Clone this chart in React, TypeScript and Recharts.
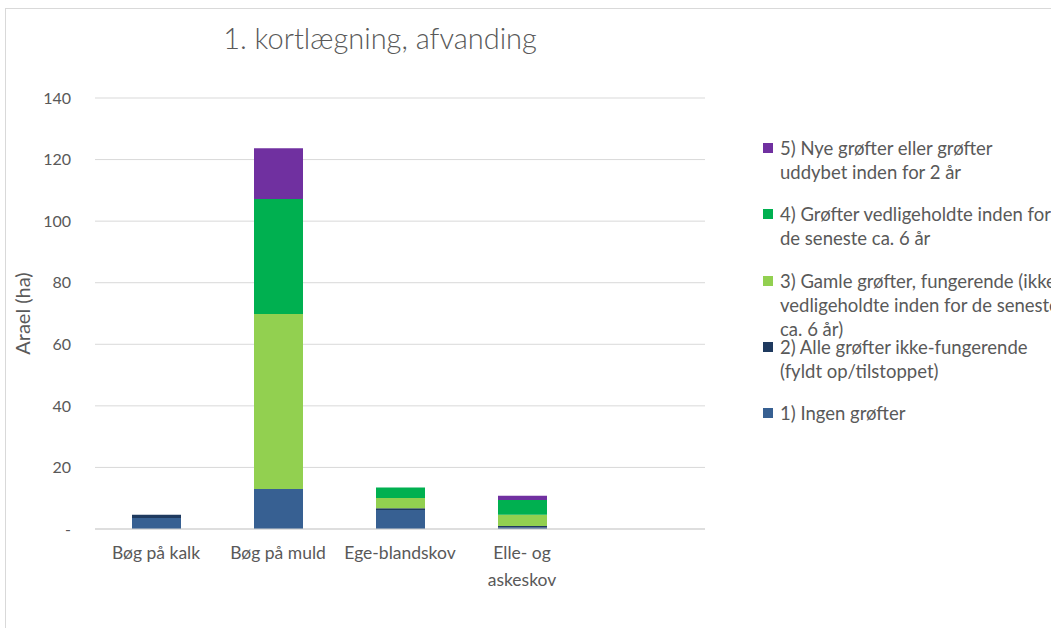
import React from 'react';
import { BarChart, Bar, XAxis, YAxis, CartesianGrid, Label } from 'recharts';

const categories = ['Bøg på kalk', 'Bøg på muld', 'Ege-blandskov', 'Elle- og\naskeskov', ''];
const s1 = [3.6, 13.0, 6.2, 0.5, 0];
const s2 = [1.0, 0, 0.5, 0.5, 0];
const s3 = [0, 56.8, 3.4, 3.6, 0];
const s4 = [0, 37.4, 3.4, 4.8, 0];
const s5 = [0, 16.5, 0, 1.4, 0];
const yTicks = [0, 20, 40, 60, 80, 100, 120, 140];

const seriesNames = [
  '1) Ingen grøfter',
  '2) Alle grøfter ikke-fungerende (fyldt op/tilstoppet)',
  '3) Gamle grøfter, fungerende (ikke vedligeholdte inden for de seneste ca. 6 år)',
  '4) Grøfter vedligeholdte inden for de seneste ca. 6 år',
  '5) Nye grøfter eller grøfter uddybet inden for 2 år',
];
const legendLines = [
  ['5) Nye grøfter eller grøfter', 'uddybet inden for 2 år'],
  ['4) Grøfter vedligeholdte inden for', 'de seneste ca. 6 år'],
  ['3) Gamle grøfter, fungerende (ikke', 'vedligeholdte inden for de seneste', 'ca. 6 år)'],
  ['2) Alle grøfter ikke-fungerende', '(fyldt op/tilstoppet)'],
  ['1) Ingen grøfter'],
];
const colors = ['#376092', '#1f3a5f', '#92d050', '#00b050', '#7030a0'];
const legendColors = ['#7030a0', '#00b050', '#92d050', '#1f3a5f', '#376092'];

const data = categories.map((c, i) => ({
  name: c,
  s1: s1[i],
  s2: s2[i],
  s3: s3[i],
  s4: s4[i],
  s5: s5[i],
}));

const FONT = 'Lato, "Open Sans", sans-serif';
const GRAY = '#595959';

const XTick = (props: any) => {
  const { x, y, payload } = props;
  const lines = String(payload.value).split('\n');
  return (
    <g transform={`translate(${x},${y})`}>
      {lines.map((l, i) => (
        <text key={i} x={0} y={22 + i * 27} textAnchor="middle" fill={GRAY} fontSize={17.5} fontFamily={FONT}>
          {l}
        </text>
      ))}
    </g>
  );
};

export default function App() {
  const keys = ['s1', 's2', 's3', 's4', 's5'];
  return (
    <div style={{ position: 'absolute', left: 0, top: 0, width: 1051, height: 628, overflow: 'hidden', background: '#fff' }}>
      <div style={{ position: 'absolute', left: 5, top: 8, width: 1100, height: 700, border: '1px solid #d9d9d9' }} />
      <div style={{ position: 'absolute', left: 0, top: 20, width: 760, textAlign: 'center', fontFamily: FONT, fontSize: 29, color: GRAY, fontWeight: 300 }}>
        1. kortlægning, afvanding
      </div>
      <div style={{ position: 'absolute', left: 0, top: 0 }}>
        <BarChart width={1051} height={628} data={data} margin={{ top: 98, right: 346, bottom: 39, left: 35 }} barCategoryGap="20%">
          <CartesianGrid vertical={false} stroke="#d9d9d9" />
          <XAxis
            dataKey="name"
            tick={<XTick />}
            tickLine={false}
            axisLine={{ stroke: '#d0d0d0' }}
            interval={0}
            height={60}
          />
          <YAxis
            width={60}
            domain={[0, 140]}
            ticks={yTicks}
            tickFormatter={(v: number) => (v === 0 ? '-' : String(v))}
            axisLine={false}
            tickLine={false}
            tickSize={0}
            tickMargin={24}
            tick={{ fill: GRAY, fontSize: 16, fontFamily: FONT }}
          >
            <Label
              value="Arael (ha)"
              angle={-90}
              position="insideLeft"
              offset={-12}
              style={{ fill: GRAY, fontSize: 20, fontFamily: FONT, textAnchor: 'middle' }}
            />
          </YAxis>
          {keys.map((k, i) => (
            <Bar key={k} dataKey={k} name={seriesNames[i]} stackId="a" fill={colors[i]} isAnimationActive={false} barSize={49} />
          ))}
        </BarChart>
      </div>
      {legendLines.map((lines, i) => (
        <div key={i} style={{ position: 'absolute', left: 763, top: 136 + i * 66.3, fontFamily: FONT, fontSize: 18.5, color: GRAY, lineHeight: '24px', whiteSpace: 'nowrap' }}>
          <div style={{ position: 'absolute', left: 0, top: 7, width: 10, height: 10, background: legendColors[i] }} />
          <div style={{ marginLeft: 17 }}>
            {lines.map((l, j) => (
              <div key={j}>{l}</div>
            ))}
          </div>
        </div>
      ))}
    </div>
  );
}
